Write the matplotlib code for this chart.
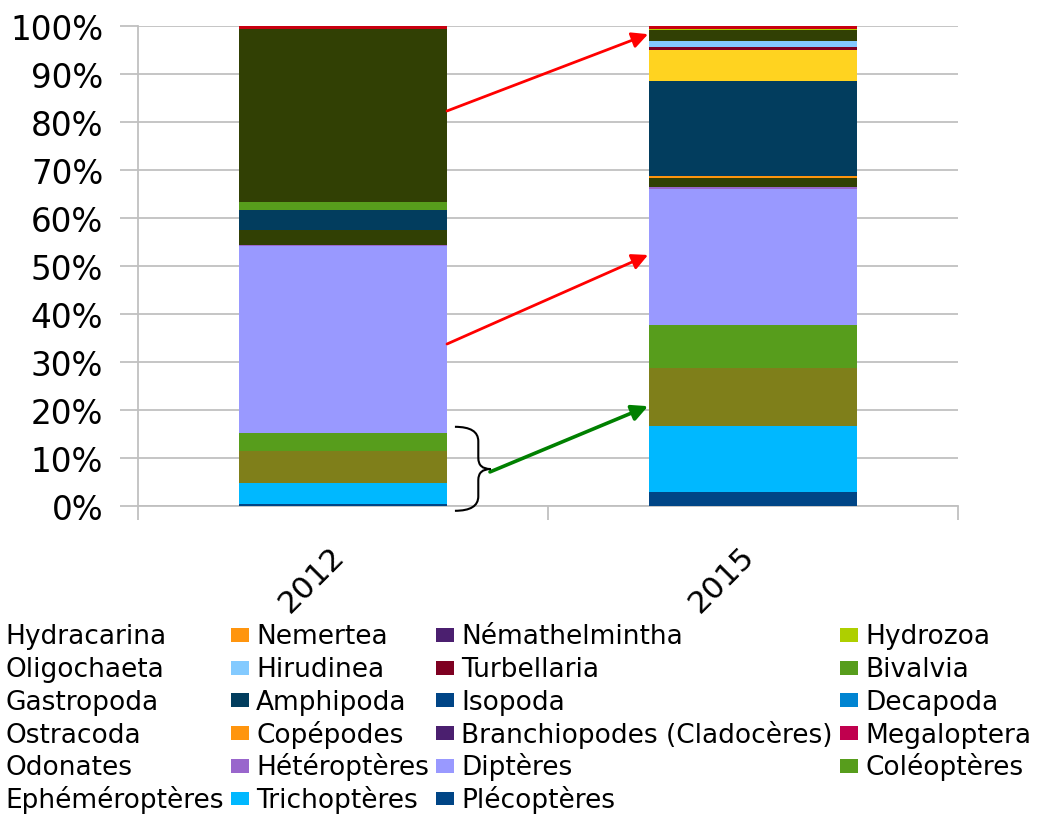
import matplotlib
matplotlib.use("Agg")
import matplotlib.pyplot as plt
from matplotlib.patches import Patch, PathPatch, Rectangle
from matplotlib.path import Path
from matplotlib.legend_handler import HandlerPatch
import matplotlib.transforms as mtransforms
import numpy as np

plt.rcParams['font.family'] = ['DejaVu Sans']

years = ["2012", "2015"]
taxa = ["Hydracarina", "Nemertea", "Némathelmintha", "Hydrozoa",
        "Oligochaeta", "Hirudinea", "Turbellaria", "Bivalvia",
        "Gastropoda", "Amphipoda", "Isopoda", "Decapoda",
        "Ostracoda", "Copépodes", "Branchiopodes (Cladocères)", "Megaloptera",
        "Odonates", "Hétéroptères", "Diptères", "Coléoptères",
        "Ephéméroptères", "Trichoptères", "Plécoptères"]
colors = ["#c8000f", "#ff950e", "#4b1f6f", "#aecf00",
          "#314004", "#83caff", "#7e0021", "#579d1c",
          "#ffd320", "#023d5e", "#004586", "#0084d1",
          "#ff420e", "#ff950e", "#4b1f6f", "#c0004e",
          "#314004", "#9966cc", "#9999ff", "#579d1c",
          "#7f7f1a", "#00b8ff", "#004586"]
# percentages, [2012, 2015]
values = {
    "Hydracarina": [0.6, 0.6],
    "Nemertea": [0.0, 0.0],
    "Némathelmintha": [0.0, 0.0],
    "Hydrozoa": [0.0, 0.3],
    "Oligochaeta": [36.1, 2.2],
    "Hirudinea": [0.0, 1.4],
    "Turbellaria": [0.0, 0.5],
    "Bivalvia": [1.6, 0.0],
    "Gastropoda": [0.0, 6.6],
    "Amphipoda": [4.1, 19.7],
    "Isopoda": [0.0, 0.0],
    "Decapoda": [0.0, 0.0],
    "Ostracoda": [0.0, 0.0],
    "Copépodes": [0.2, 0.45],
    "Branchiopodes (Cladocères)": [0.0, 0.0],
    "Megaloptera": [0.0, 0.0],
    "Odonates": [3.0, 1.8],
    "Hétéroptères": [0.2, 0.5],
    "Diptères": [39.0, 28.3],
    "Coléoptères": [3.7, 8.9],
    "Ephéméroptères": [6.7, 12.2],
    "Trichoptères": [4.3, 13.75],
    "Plécoptères": [0.5, 2.85],
}
yticks = [0, 10, 20, 30, 40, 50, 60, 70, 80, 90, 100]
ytick_labels = [f"{v}%" for v in yticks]

fig = plt.figure(figsize=(10.53, 8.20), dpi=100)
ax = fig.add_axes([138/1053, 1-507/820, 820/1053, 480/820])

x = np.arange(len(years))
bottom = np.zeros(len(years))
handles = {}
# stack from the last legend item (bottom) to the first (top)
for name, col in zip(reversed(taxa), reversed(colors)):
    v = np.array(values[name])
    ax.bar(x, v, width=0.505, bottom=bottom, color=col, linewidth=0, zorder=3)
    bottom += v
for name, col in zip(taxa, colors):
    handles[name] = Patch(facecolor=col, edgecolor='none')

ax.set_xlim(-0.5, 1.5)
ax.set_ylim(0, 100)
ax.set_yticks(yticks)
ax.set_yticklabels(ytick_labels, fontsize=23.5)
ax.yaxis.grid(True, color="#c0c0c0", linewidth=1.3, zorder=0)
ax.set_axisbelow(True)
ax.tick_params(axis='y', length=13, width=1.3, color="#c0c0c0", pad=12)

ax.set_xticks(x)
ax.set_xticklabels(years, fontsize=22.5, rotation=45, ha='right', va='top')
ax.set_xticks([-0.5, 0.5, 1.5], minor=True)
ax.tick_params(axis='x', which='major', length=0, pad=25)
ax.tick_params(axis='x', which='minor', length=10, width=1.3, color="#c0c0c0")
offset = mtransforms.ScaledTranslation(7/100, 0, fig.dpi_scale_trans)
for lab in ax.get_xticklabels():
    lab.set_transform(lab.get_transform() + offset)

for s in ['top', 'right']:
    ax.spines[s].set_visible(False)
for s in ['left', 'bottom']:
    ax.spines[s].set_color("#c0c0c0")
    ax.spines[s].set_linewidth(1.3)

# arrows
ax.annotate("", xy=(0.744, 98.3), xytext=(0.2537, 82.3),
            arrowprops=dict(arrowstyle='-|>', color='#ff0000', lw=2.0,
                            mutation_scale=24, shrinkA=0, shrinkB=0), zorder=5)
ax.annotate("", xy=(0.744, 52.3), xytext=(0.2537, 33.75),
            arrowprops=dict(arrowstyle='-|>', color='#ff0000', lw=2.0,
                            mutation_scale=24, shrinkA=0, shrinkB=0), zorder=5)
ax.annotate("", xy=(0.744, 20.8), xytext=(0.3585, 7.1),
            arrowprops=dict(arrowstyle='-|>', color='#008000', lw=2.6,
                            mutation_scale=24, shrinkA=0, shrinkB=0), zorder=5)

# curly brace
verts = [(0.273, 16.5), (0.33, 16.5), (0.33, 13.5),
         (0.33, 10.0), (0.33, 7.7), (0.36, 7.7),
         (0.33, 7.7), (0.33, 5.4),
         (0.33, 2.0), (0.33, -1.0), (0.273, -1.0)]
codes = [Path.MOVETO, Path.CURVE3, Path.CURVE3,
         Path.LINETO, Path.CURVE3, Path.CURVE3,
         Path.CURVE3, Path.CURVE3,
         Path.LINETO, Path.CURVE3, Path.CURVE3]
ax.add_patch(PathPatch(Path(verts, codes), facecolor='none', edgecolor='black',
                       lw=1.5, clip_on=False, zorder=5))


# legend swatch: small square sitting on the baseline inside a taller box
def swatch(legend, orig_handle, xdescent, ydescent, width, height, fontsize):
    return Rectangle((-xdescent, 0.06 * fontsize), width, 0.53 * fontsize)


# legend: column-major order for 4 columns (6,6,6,5 rows)
ncol = 4
rows = 6
order = []
for c in range(ncol):
    for r in range(rows):
        i = r * ncol + c
        if i < len(taxa):
            order.append(taxa[i])
fig.legend([handles[n] for n in order], order, ncol=ncol,
           loc='upper left', bbox_to_anchor=(-20/1053, 1-622/820),
           frameon=False, fontsize=19.0, handlelength=0.68, handleheight=1.208,
           handletextpad=0.27, columnspacing=0.28, labelspacing=0.16,
           borderpad=0, borderaxespad=0,
           handler_map={Patch: HandlerPatch(patch_func=swatch)})

fig.savefig("out.png", dpi=100)
